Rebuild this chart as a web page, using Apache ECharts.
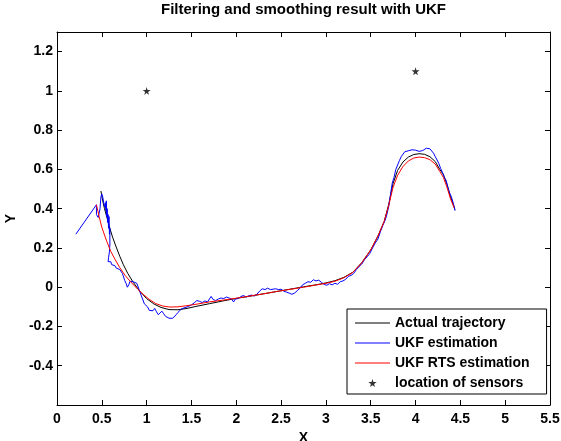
<!DOCTYPE html>
<html>
<head>
<meta charset="utf-8">
<script src="https://cdn.jsdelivr.net/npm/echarts@6/dist/echarts.min.js"></script>
<style>html,body{margin:0;padding:0;background:#fff;}#c{width:561px;height:441px;}</style>
</head>
<body>
<div id="c"></div>
<script>
// ---- data ----
var titleText = 'Filtering and smoothing result with UKF';
var seriesNames = ['Actual trajectory', 'UKF estimation', 'UKF RTS estimation', 'location of sensors'];
var xTicks = [0, 0.5, 1, 1.5, 2, 2.5, 3, 3.5, 4, 4.5, 5, 5.5];
var yTicks = [-0.4, -0.2, 0, 0.2, 0.4, 0.6, 0.8, 1, 1.2];

var actualX = [0.49,0.51,0.53,0.56,0.59,0.62,0.66,0.70,0.74,0.79,0.85,0.92,1.00,1.08,1.16,1.25,1.35,1.45,1.55,1.70,1.85,2.00,2.15,2.30,2.45,2.60,2.75,2.90,3.00,3.10,3.20,3.30,3.40,3.50,3.58,3.65,3.70,3.75,3.80,3.86,3.92,3.98,4.04,4.10,4.16,4.22,4.27,4.31,4.35,4.39,4.43,4.44];
var actualY = [0.49,0.44,0.40,0.35,0.30,0.255,0.205,0.158,0.115,0.07,0.025,-0.018,-0.058,-0.085,-0.103,-0.114,-0.115,-0.108,-0.098,-0.084,-0.070,-0.057,-0.046,-0.034,-0.022,-0.010,0.002,0.013,0.022,0.033,0.05,0.076,0.125,0.19,0.26,0.335,0.42,0.53,0.595,0.638,0.663,0.676,0.68,0.677,0.665,0.64,0.60,0.575,0.525,0.46,0.41,0.395];

var ukfX = [0.21,0.44,0.44,0.46,0.475,0.48,0.49,0.50,0.51,0.52,0.53,0.54,0.545,0.55,0.555,0.56,0.565,0.57,0.575,0.58,0.585,0.59,0.59,0.585,0.575,0.57,0.58,0.59,0.60,0.61,0.62,0.63,0.645,0.66,0.68,0.70,0.715,0.73,0.745,0.755,0.77,0.785,0.80,0.815,0.83,0.85,0.87,0.89,0.91,0.93,0.95,0.975,0.99,1.01,1.03,1.05,1.07,1.09,1.11,1.13,1.15,1.17,1.19,1.21,1.23,1.25,1.27,1.29,1.31,1.33,1.35,1.37,1.39,1.41,1.44,1.47,1.50,1.53,1.56,1.59,1.62,1.65,1.68,1.70,1.72,1.74,1.77,1.80,1.83,1.86,1.89,1.92,1.95,1.97,1.99,2.02,2.05,2.08,2.11,2.14,2.17,2.20,2.23,2.26,2.29,2.32,2.35,2.38,2.41,2.44,2.47,2.50,2.53,2.56,2.59,2.62,2.65,2.68,2.71,2.74,2.77,2.80,2.83,2.86,2.89,2.92,2.95,2.98,3.01,3.04,3.07,3.10,3.13,3.16,3.19,3.22,3.25,3.28,3.31,3.34,3.37,3.40,3.43,3.46,3.49,3.52,3.55,3.58,3.61,3.64,3.66,3.68,3.70,3.72,3.74,3.76,3.78,3.80,3.82,3.84,3.86,3.88,3.90,3.92,3.94,3.96,3.98,4.00,4.02,4.04,4.06,4.08,4.10,4.12,4.14,4.16,4.18,4.20,4.22,4.24,4.26,4.28,4.30,4.32,4.34,4.36,4.38,4.40,4.42,4.44];
var ukfY = [0.27,0.42,0.37,0.355,0.36,0.40,0.46,0.475,0.46,0.47,0.41,0.43,0.39,0.44,0.36,0.40,0.33,0.37,0.30,0.36,0.27,0.30,0.22,0.18,0.15,0.13,0.14,0.125,0.13,0.115,0.125,0.105,0.11,0.098,0.095,0.09,0.085,0.07,0.06,0.035,0.02,0.0,0.012,0.03,0.022,0.028,0.018,0.02,0.015,-0.03,-0.04,-0.085,-0.075,-0.10,-0.118,-0.112,-0.12,-0.108,-0.125,-0.14,-0.13,-0.122,-0.135,-0.148,-0.152,-0.158,-0.162,-0.158,-0.15,-0.14,-0.128,-0.127,-0.11,-0.1,-0.102,-0.097,-0.09,-0.08,-0.068,-0.072,-0.078,-0.07,-0.075,-0.06,-0.047,-0.062,-0.068,-0.06,-0.055,-0.058,-0.05,-0.055,-0.062,-0.075,-0.06,-0.058,-0.048,-0.042,-0.05,-0.044,-0.04,-0.045,-0.036,-0.02,-0.008,-0.012,-0.005,-0.012,-0.01,-0.008,-0.012,-0.01,-0.02,-0.025,-0.03,-0.036,-0.03,-0.018,-0.005,0.012,0.02,0.028,0.025,0.038,0.032,0.036,0.025,0.014,0.01,0.018,0.012,0.02,0.015,0.028,0.032,0.04,0.055,0.06,0.07,0.09,0.105,0.118,0.14,0.155,0.172,0.2,0.225,0.245,0.285,0.32,0.34,0.37,0.41,0.47,0.53,0.56,0.6,0.61,0.645,0.665,0.67,0.69,0.68,0.695,0.688,0.7,0.69,0.698,0.704,0.692,0.70,0.696,0.702,0.708,0.712,0.705,0.695,0.683,0.665,0.648,0.63,0.605,0.585,0.56,0.545,0.51,0.48,0.46,0.43,0.39];

var rtsX = [0.44,0.47,0.50,0.55,0.60,0.65,0.70,0.76,0.82,0.90,0.96,1.03,1.10,1.18,1.26,1.35,1.45,1.55,1.70,1.85,2.00,2.15,2.30,2.45,2.60,2.75,2.90,3.00,3.10,3.20,3.30,3.40,3.50,3.58,3.65,3.70,3.75,3.80,3.86,3.92,3.98,4.04,4.10,4.16,4.22,4.27,4.31,4.35,4.39,4.43];
var rtsY = [0.42,0.36,0.305,0.24,0.182,0.14,0.10,0.06,0.028,-0.01,-0.036,-0.062,-0.083,-0.096,-0.101,-0.100,-0.094,-0.087,-0.075,-0.066,-0.056,-0.045,-0.034,-0.022,-0.011,0.0,0.012,0.02,0.03,0.048,0.075,0.124,0.19,0.26,0.335,0.415,0.51,0.57,0.615,0.643,0.658,0.663,0.66,0.65,0.627,0.59,0.56,0.51,0.45,0.405];

var sensorX = [1, 4];
var sensorY = [1, 1.1];

// ---- build ----
function zip(a, b) { var r = []; for (var i = 0; i < a.length; i++) r.push([a[i], b[i]]); return r; }
var FONT = 'Liberation Sans, Arial, Helvetica, sans-serif';
var starPath = 'path://M50,0 L61,35 L98,35 L68,57 L79,91 L50,70 L21,91 L32,57 L2,35 L39,35 Z';
var lineIcon = 'path://M0,0 L70,0 L70,2 L0,2 Z';

function fmtList(list) {
  return function (v) {
    var r = Math.round(v * 100) / 100;
    for (var i = 0; i < list.length; i++) if (Math.abs(list[i] - r) < 1e-6) return String(list[i]);
    return '';
  };
}

var axisCommon = {
  axisLine: { show: true, onZero: false, lineStyle: { color: '#000', width: 1 } },
  axisTick: { show: true, inside: true, length: 5, lineStyle: { color: '#000', width: 1 } },
  splitLine: { show: false }
};
var lblStyle = { color: '#000', fontFamily: FONT, fontWeight: 'bold', fontSize: 14 };

var chart = echarts.init(document.getElementById('c'), null, { renderer: 'canvas' });
chart.setOption({
  animation: false,
  backgroundColor: '#fff',
  title: {
    text: titleText, left: 303.5, top: 2, textAlign: 'center', padding: 0,
    textStyle: { color: '#000', fontFamily: FONT, fontWeight: 'bold', fontSize: 15 }
  },
  grid: { left: 57, right: 11, top: 32, bottom: 36, containLabel: false, outerBoundsMode: 'none' },
  xAxis: [
    Object.assign({}, axisCommon, {
      type: 'value', position: 'bottom', min: 0, max: 5.5, interval: 0.5,
      name: 'X', nameLocation: 'middle', nameGap: 23,
      nameTextStyle: lblStyle,
      axisLabel: Object.assign({ margin: 7, formatter: fmtList(xTicks) }, lblStyle)
    }),
    Object.assign({}, axisCommon, {
      type: 'value', position: 'top', min: 0, max: 5.5, interval: 0.5,
      axisLabel: { show: false }
    })
  ],
  yAxis: [
    Object.assign({}, axisCommon, {
      type: 'value', position: 'left', min: -0.6, max: 1.3, interval: 0.2,
      name: 'Y', nameLocation: 'middle', nameGap: 34,
      nameTextStyle: lblStyle,
      axisLabel: Object.assign({ margin: 4, formatter: fmtList(yTicks) }, lblStyle)
    }),
    Object.assign({}, axisCommon, {
      type: 'value', position: 'right', min: -0.6, max: 1.3, interval: 0.2,
      axisLabel: { show: false }
    })
  ],
  legend: {
    orient: 'vertical', left: 347, top: 309,
    padding: [7, 17, 4, 8],
    itemWidth: 35, itemHeight: 8, itemGap: 6,
    backgroundColor: '#fff', borderColor: '#000', borderWidth: 1, borderRadius: 0,
    textStyle: { color: '#000', fontFamily: FONT, fontWeight: 'bold', fontSize: 14 },
    data: [
      { name: seriesNames[0], icon: lineIcon },
      { name: seriesNames[1], icon: lineIcon },
      { name: seriesNames[2], icon: lineIcon },
      { name: seriesNames[3], icon: starPath }
    ]
  },
  series: [
    {
      name: seriesNames[0], type: 'line', data: zip(actualX, actualY),
      symbol: 'none', smooth: false, lineStyle: { color: '#000', width: 1 }, itemStyle: { color: '#000' }
    },
    {
      name: seriesNames[1], type: 'line', data: zip(ukfX, ukfY),
      symbol: 'none', smooth: false, lineStyle: { color: '#0000ff', width: 1 }, itemStyle: { color: '#0000ff' }
    },
    {
      name: seriesNames[2], type: 'line', data: zip(rtsX, rtsY),
      symbol: 'none', smooth: false, lineStyle: { color: '#ff0000', width: 1 }, itemStyle: { color: '#ff0000' }
    },
    {
      name: seriesNames[3], type: 'scatter', data: zip(sensorX, sensorY),
      symbol: starPath, symbolSize: 8, itemStyle: { color: '#000' }
    }
  ]
});
</script>
</body>
</html>
